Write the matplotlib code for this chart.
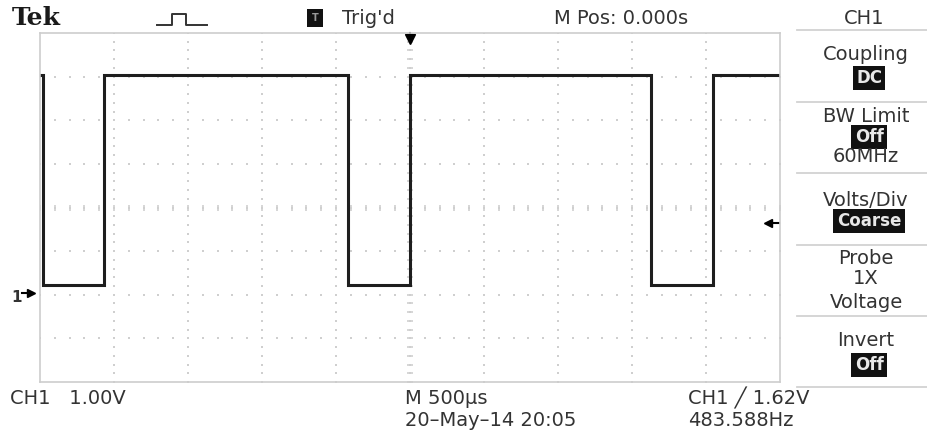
import numpy as np
import matplotlib.pyplot as plt
from matplotlib.lines import Line2D
import matplotlib.transforms as mtransforms

# CH1 trace: time of each edge (us) and level held after it (V)
edge_t = [-2500, -2480, -2070, -420, 0, 1625, 2050, 2500]
edge_v = [5.0, 0.2, 5.0, 0.2, 5.0, 0.2, 5.0, 5.0]

time_div = 500      # us / div
volts_div = 1.0     # V / div
gnd_div = 2.03      # ground marker below screen centre (div)
trig_level = 1.62   # V
trig_time = 0

menu_labels = ["Coupling", "DC", "BW Limit", "Off", "60MHz", "Volts/Div",
               "Coarse", "Probe", "1X", "Voltage", "Invert", "Off"]
menu_y = [55, 78, 117, 137, 156, 200, 221, 258, 279, 302, 340, 365]
menu_boxed = [False, True, False, True, False, False, True, False, False,
              False, False, True]
menu_lines = [30, 102, 173, 245, 316, 387]

W, H = 927, 438


def fx(px):
    return px / W


def fy(py):
    return 1 - py / H


fig = plt.figure(figsize=(W / 100, H / 100), dpi=100)
ax = fig.add_axes([fx(40), fy(382), (780 - 40) / W, (382 - 33) / H])

ylo = -gnd_div * volts_div
yhi = ylo + 8 * volts_div
ycen = ylo + 4 * volts_div
ax.set_xlim(-5 * time_div, 5 * time_div)
ax.set_ylim(ylo, yhi)
ax.set_xticks([])
ax.set_yticks([])
for s in ax.spines.values():
    s.set_color('#cdcdcd')
    s.set_linewidth(1.2)

# graticule dots
gcol = '#cfcfcf'
x_major = np.arange(-5, 6) * time_div
y_major = ylo + np.arange(0, 9) * volts_div
x_minor = np.arange(-25, 26) * time_div / 5
y_minor = ylo + np.arange(0, 41) * volts_div / 5
for xm in x_major[1:-1]:
    ax.plot(np.full_like(y_minor, xm), y_minor, ls='none', marker='s', ms=1.5,
            color=gcol, mew=0)
for ym in y_major[1:-1]:
    ax.plot(x_minor, np.full_like(x_minor, ym), ls='none', marker='s', ms=1.5,
            color=gcol, mew=0)
# centre line ticks
ax.plot(x_minor, np.full_like(x_minor, ycen), ls='none', marker='|', ms=4,
        color=gcol, mew=1.2)
ax.plot(np.zeros_like(y_minor), y_minor, ls='none', marker='_', ms=4,
        color=gcol, mew=1.2)

# signal
ax.plot(edge_t, edge_v, drawstyle='steps-post', color='#1e1e1e', lw=2.2,
        solid_joinstyle='miter')

# markers: trigger position, ground, trigger level
bx = mtransforms.blended_transform_factory(ax.transData, ax.transAxes)
ax.plot([trig_time], [0.983], marker='v', ms=7, color='black', transform=bx,
        clip_on=False)
ax.plot([trig_time, trig_time], [0.975, 1.0], color='black', lw=1.5,
        transform=bx, clip_on=False)
by = mtransforms.blended_transform_factory(ax.transAxes, ax.transData)
ax.plot([-0.012], [0], marker='>', ms=6, color='black', transform=by,
        clip_on=False)
ax.plot([-0.024, -0.01], [0, 0], color='black', lw=1.5, transform=by,
        clip_on=False)
ax.plot([0.984], [trig_level], marker='<', ms=6, color='black', transform=by,
        clip_on=False)
ax.plot([0.984, 0.998], [trig_level, trig_level], color='black', lw=1.5,
        transform=by, clip_on=False)
fig.text(fx(17), fy(297), "1", fontsize=11, color='#333333', ha='center',
         va='center', weight='bold')

txt = dict(color='#333333', va='center', fontsize=14, family='DejaVu Sans')

# top line
fig.text(fx(12), fy(18), "Tek", fontsize=18, weight='bold', family='DejaVu Serif',
         color='#1a1a1a', va='center', ha='left')
fig.add_artist(Line2D([fx(157), fx(172), fx(172), fx(186), fx(186), fx(207)],
                      [fy(25), fy(25), fy(14), fy(14), fy(25), fy(25)],
                      transform=fig.transFigure, color='#333333', lw=1.4))
fig.text(fx(315), fy(18), "T", fontsize=7, color='#999999', ha='center', va='center',
         weight='bold',
         bbox=dict(boxstyle='square,pad=0.45', fc='#111111', ec='none'))
fig.text(fx(342), fy(18), "Trig'd", ha='left', **txt)
fig.text(fx(621), fy(18), "M Pos: 0.000s", ha='center', **txt)
fig.text(fx(864), fy(18), "CH1", ha='center', **txt)

# side menu
for y in menu_lines:
    fig.add_artist(Line2D([fx(797), fx(927)], [fy(y), fy(y)],
                          transform=fig.transFigure, color='#d2d2d2', lw=1.3))
for label, y, boxed in zip(menu_labels, menu_y, menu_boxed):
    if boxed:
        fig.text(fx(869), fy(y), label, fontsize=12, color='#e8e8e8',
                 ha='center', va='center', weight='bold',
                 bbox=dict(boxstyle='square,pad=0.2', fc='#111111', ec='none'))
    else:
        fig.text(fx(866), fy(y), label, ha='center', **txt)

# bottom readouts
fig.text(fx(10), fy(398), "CH1   1.00V", ha='left', **txt)
fig.text(fx(405), fy(398), "M 500\u00b5s", ha='left', **txt)
fig.text(fx(405), fy(421), "20\u2013May\u201314 20:05", ha='left', **txt)
fig.text(fx(688), fy(398), "CH1 \u2571 1.62V", ha='left', **txt)
fig.text(fx(688), fy(421), "483.588Hz", ha='left', **txt)

fig.savefig("out.png", dpi=100)
